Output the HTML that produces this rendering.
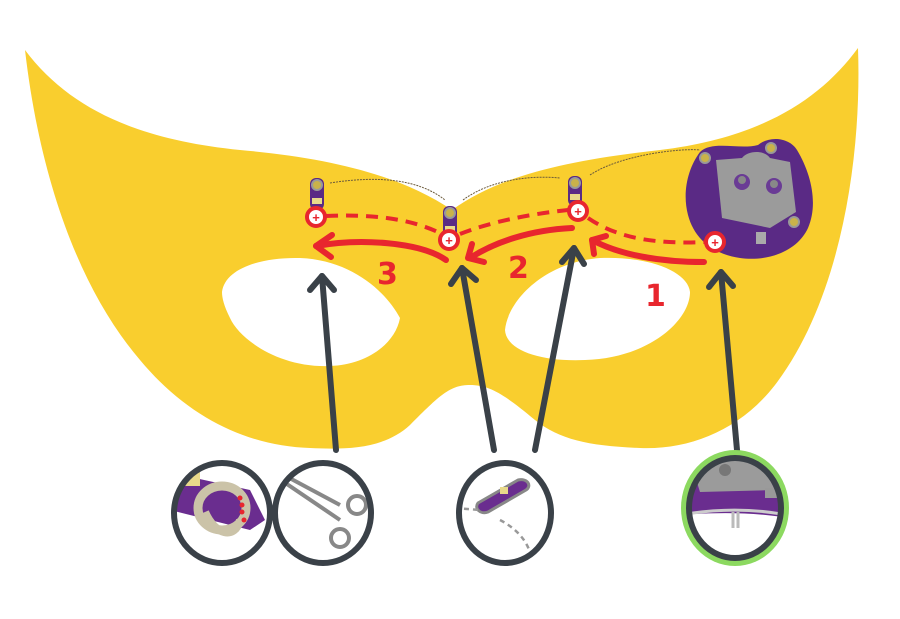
<!DOCTYPE html>
<html><head><meta charset="utf-8"><style>
html,body{margin:0;padding:0;background:#fff;width:900px;height:619px;overflow:hidden}
svg{display:block}
</style></head><body>
<svg width="900" height="619" viewBox="0 0 900 619" xmlns="http://www.w3.org/2000/svg">
<defs>
<clipPath id="c1"><ellipse cx="222" cy="513" rx="46" ry="48"/></clipPath>
<clipPath id="c2"><ellipse cx="323" cy="513" rx="46" ry="48"/></clipPath>
<clipPath id="c3"><ellipse cx="505" cy="513" rx="44" ry="48"/></clipPath>
<clipPath id="c4"><ellipse cx="735" cy="508" rx="44" ry="48"/></clipPath>
</defs>
<!-- mask -->
<path fill="#F9CE2E" fill-rule="evenodd" d="
M25,50 C70,110 140,140 240,150 C330,158 400,175 452,210
C500,175 570,160 660,150 C760,138 820,100 858,48
C862,160 840,300 775,385 C740,430 690,450 640,448 C590,446 560,440 535,420
C505,395 490,385 470,385 C450,385 440,395 410,425 C385,448 350,450 310,448
C250,446 190,420 140,360 C80,290 40,180 25,50 Z
M222,292 C225,268 262,257 300,258 C350,260 385,290 400,318 C395,345 365,365 330,366 C280,368 240,340 230,318 C224,306 222,298 222,292 Z
M505,330 C508,300 545,262 600,258 C650,256 688,272 690,292 C690,320 650,358 585,360 C540,362 506,350 505,330 Z"/>
<!-- stitch lines -->
<g fill="none" stroke="#6b5a3a" stroke-width="1" stroke-dasharray="2 1">
<path d="M330,183 C380,175 420,180 445,200"/>
<path d="M463,200 C490,180 530,175 560,178"/>
<path d="M590,175 C620,155 680,148 700,150"/>
</g>
<!-- battery holder -->
<g>
<path d="M700,152 C712,140 740,150 758,145 C770,135 790,138 797,150 C812,175 818,205 808,228 C798,250 770,262 740,258 C712,254 694,238 688,215 C682,192 688,168 700,152 Z" fill="#5a2a85"/>
<path d="M716,160 L742,158 C748,150 765,150 770,158 L790,162 L796,212 L770,228 L722,218 Z" fill="#9b9b9b"/>
<circle cx="742" cy="182" r="8" fill="#6a3b95"/><circle cx="774" cy="186" r="8" fill="#6a3b95"/>
<circle cx="742" cy="180" r="4" fill="#888"/><circle cx="774" cy="184" r="4" fill="#888"/>
<circle cx="705" cy="158" r="5" fill="#c9b24a" stroke="#999" stroke-width="2"/>
<circle cx="794" cy="222" r="5" fill="#c9b24a" stroke="#999" stroke-width="2"/>
<circle cx="771" cy="148" r="5" fill="#c9b24a" stroke="#999" stroke-width="2"/>
<rect x="756" y="232" width="10" height="12" fill="#aaa"/>
</g>
<!-- LED boards -->
<g>
<rect x="310" y="178" width="14" height="32" rx="6" fill="#5a2a85"/><circle cx="317" cy="185" r="5" fill="#c9b24a" stroke="#999" stroke-width="2"/><rect x="312" y="198" width="10" height="6" fill="#e8d98a"/>
<rect x="443" y="206" width="14" height="32" rx="6" fill="#5a2a85"/><circle cx="450" cy="213" r="5" fill="#c9b24a" stroke="#999" stroke-width="2"/><rect x="445" y="226" width="10" height="6" fill="#e8d98a"/>
<rect x="568" y="176" width="14" height="30" rx="6" fill="#5a2a85"/><circle cx="575" cy="183" r="5" fill="#c9b24a" stroke="#999" stroke-width="2"/><rect x="570" y="194" width="10" height="6" fill="#e8d98a"/>
</g>
<!-- red dashed -->
<g fill="none" stroke="#E8262E" stroke-width="4" stroke-dasharray="12 8">
<path d="M326,216 C370,214 410,218 442,234"/>
<path d="M460,234 C490,222 530,214 568,210"/>
<path d="M588,218 C620,240 660,244 706,242"/>
</g>
<!-- red solid arrows -->
<g fill="none" stroke="#E8262E" stroke-width="6" stroke-linecap="round" stroke-linejoin="round">
<path d="M704,262 C660,262 620,255 592,240"/><path d="M594,254 L592,240 L606,236"/>
<path d="M572,228 C530,230 495,242 470,258"/><path d="M472,244 L468,258 L484,262"/>
<path d="M446,260 C420,242 360,238 316,246"/><path d="M332,235 L316,246 L331,257"/>
</g>
<g fill="#E8262E" font-family="DejaVu Sans, sans-serif" font-weight="bold" font-size="30">
<text x="377" y="284">3</text><text x="508" y="278">2</text><text x="645" y="306">1</text>
</g>
<!-- red nodes -->
<g fill="#fff" stroke="#E8262E" stroke-width="4">
<circle cx="316" cy="217" r="9"/><circle cx="449" cy="240" r="9"/><circle cx="578" cy="211" r="9"/><circle cx="715" cy="242" r="9"/>
</g>
<g fill="#E8262E" font-family="Liberation Sans, sans-serif" font-weight="bold" font-size="13" text-anchor="middle">
<text x="316" y="222">+</text><text x="449" y="245">+</text><text x="578" y="216">+</text><text x="715" y="247">+</text>
</g>
<!-- gray arrows -->
<g fill="none" stroke="#3a4148" stroke-width="6" stroke-linecap="round" stroke-linejoin="round">
<path d="M336,450 L322,276"/><path d="M310,290 L322,276 L334,290"/>
<path d="M494,450 L462,268"/><path d="M451,284 L462,268 L476,280"/>
<path d="M535,450 L574,248"/><path d="M562,262 L574,248 L584,264"/>
<path d="M737,450 L721,272"/><path d="M709,287 L721,272 L733,286"/>
</g>
<!-- bottom circles -->
<ellipse cx="735" cy="508" rx="54" ry="58" fill="#8cd960"/>
<g fill="#fff">
<ellipse cx="222" cy="513" rx="48" ry="50"/>
<ellipse cx="323" cy="513" rx="48" ry="50"/>
<ellipse cx="505" cy="513" rx="46" ry="50"/>
<ellipse cx="735" cy="508" rx="46" ry="50"/>
</g>
<!-- circle contents -->
<g clip-path="url(#c1)">
<path d="M170,490 L195,478 L250,490 L265,520 L250,530 L170,510 Z" fill="#6a2d8f"/>
<rect x="182" y="470" width="18" height="16" fill="#e8d98a"/>
<ellipse cx="222" cy="508" rx="24" ry="22" fill="none" stroke="#cbc3a8" stroke-width="9"/>
<path d="M205,512 C215,535 235,540 240,520" fill="none" stroke="#cbc3a8" stroke-width="8"/>
<g fill="#e8262e"><circle cx="240" cy="498" r="2.5"/><circle cx="242" cy="505" r="2.5"/><circle cx="242" cy="512" r="2.5"/><circle cx="244" cy="520" r="2.5"/></g>
</g>
<g clip-path="url(#c2)" fill="none" stroke="#888" stroke-width="4">
<path d="M278,478 L340,520"/><path d="M282,474 L340,505"/><circle cx="357" cy="505" r="9"/><circle cx="340" cy="538" r="9"/>
</g>
<g clip-path="url(#c3)">
<path d="M478,503 L518,480 C528,478 532,486 526,490 L488,512 C480,515 474,508 478,503 Z" fill="#6a2d8f" stroke="#888" stroke-width="3"/>
<rect x="500" y="487" width="8" height="7" fill="#e8d98a"/>
<path d="M455,508 L480,510 M500,520 C515,528 525,538 530,552" stroke="#999" stroke-width="2.5" stroke-dasharray="5 4" fill="none"/>
</g>
<g clip-path="url(#c4)">
<path d="M680,458 L800,458 L800,520 C760,512 720,512 680,515 Z" fill="#6a2d8f"/>
<path d="M690,460 L760,460 L775,490 L700,492 Z" fill="#9b9b9b"/>
<circle cx="725" cy="470" r="6" fill="#777"/>
<rect x="765" y="488" width="14" height="10" fill="#999"/>
<path d="M680,515 C720,508 760,508 800,518" fill="none" stroke="#ccc" stroke-width="3"/>
<path d="M733,512 L733,528 M738,512 L738,528" stroke="#bbb" stroke-width="3"/>
</g>
<g fill="none" stroke="#3a4148" stroke-width="6">
<ellipse cx="222" cy="513" rx="48" ry="50"/>
<ellipse cx="323" cy="513" rx="48" ry="50"/>
<ellipse cx="505" cy="513" rx="46" ry="50"/>
<ellipse cx="735" cy="508" rx="46" ry="50"/>
</g>
</svg>
</body></html>
